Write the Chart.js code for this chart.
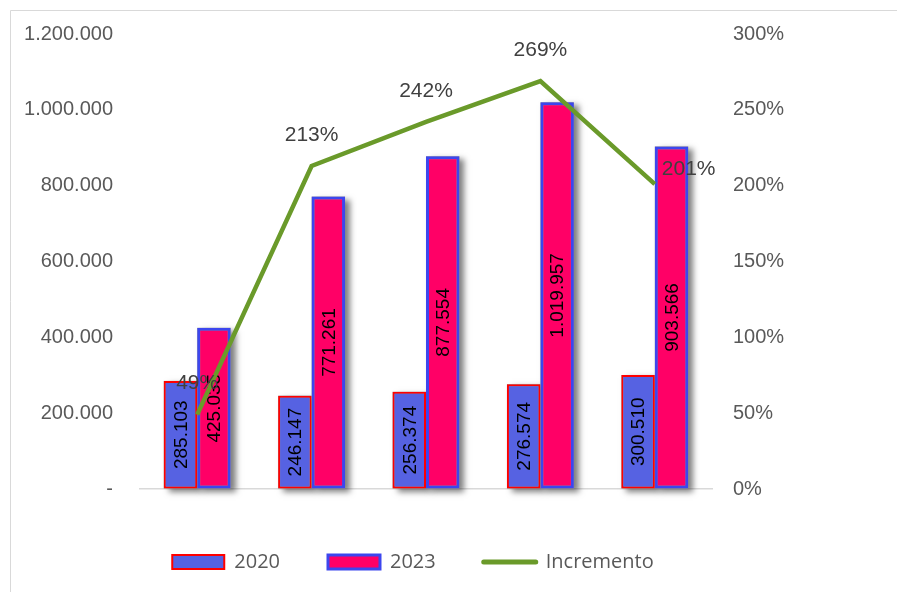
<!DOCTYPE html>
<html><head><meta charset="utf-8">
<script src="https://cdn.jsdelivr.net/npm/chart.js@4.4.0/dist/chart.umd.min.js"></script>
<style>html,body{margin:0;padding:0;background:#fff}canvas{display:block}</style>
</head><body>
<canvas id="c" width="897" height="592"></canvas>
<script>
const categories = ['A1', 'A2', 'A3', 'A4', 'A5'];
const values2020 = [285103, 246147, 256374, 276574, 300510];
const values2023 = [425035, 771261, 877554, 1019957, 903566];
const incremento = [49, 213, 242, 269, 201];
const leftTickValues = [0, 200000, 400000, 600000, 800000, 1000000, 1200000];
const rightTickValues = [0, 50, 100, 150, 200, 250, 300];
const seriesNames = ['2020', '2023', 'Incremento'];

const fmt = n => n === 0 ? '-' : String(n).replace(/\B(?=(\d{3})+(?!\d))/g, '.');
const AX_FONT = '"Liberation Sans", Arial, sans-serif';

const frame = {
  id: 'frame',
  beforeDraw(chart) {
    const ctx = chart.ctx;
    ctx.save();
    ctx.fillStyle = '#fff';
    ctx.fillRect(0, 0, chart.width, chart.height);
    ctx.strokeStyle = '#d9d9d9';
    ctx.lineWidth = 1;
    ctx.beginPath();
    ctx.moveTo(10.5, chart.height);
    ctx.lineTo(10.5, 10.5);
    ctx.lineTo(chart.width, 10.5);
    ctx.stroke();
    ctx.restore();
  }
};

const barDeco = {
  id: 'barDeco',
  beforeDatasetsDraw(chart) {
    const ctx = chart.ctx;
    ctx.save();
    ctx.shadowColor = 'rgba(0,0,0,0.5)';
    ctx.shadowBlur = 6;
    ctx.shadowOffsetX = 5;
    ctx.shadowOffsetY = 3;
    ctx.fillStyle = '#999';
    chart.data.datasets.forEach((ds, di) => {
      const meta = chart.getDatasetMeta(di);
      if (meta.type !== 'bar') return;
      meta.data.forEach(b => {
        const p = b.getProps(['x', 'y', 'base', 'width'], true);
        ctx.fillRect(p.x - p.width / 2, Math.min(p.y, p.base), p.width, Math.abs(p.base - p.y));
      });
    });
    ctx.restore();
  },
  afterDatasetDraw(chart, args) {
    const meta = args.meta;
    if (meta.type !== 'bar') return;
    const ctx = chart.ctx;
    const ds = chart.data.datasets[args.index];
    ctx.save();
    ctx.font = '19px ' + AX_FONT;
    ctx.fillStyle = '#000';
    ctx.textAlign = 'center';
    ctx.textBaseline = 'middle';
    meta.data.forEach((b, i) => {
      const p = b.getProps(['x', 'y', 'base'], true);
      ctx.save();
      ctx.translate(p.x + 1, (p.y + p.base) / 2);
      ctx.rotate(-Math.PI / 2);
      ctx.fillText(fmt(ds.data[i]), 0, 0);
      ctx.restore();
    });
    ctx.restore();
  },
  afterDatasetsDraw(chart) {
    const ctx = chart.ctx;
    const idx = chart.data.datasets.findIndex(d => d.type === 'line');
    const meta = chart.getDatasetMeta(idx);
    const ds = chart.data.datasets[idx];
    ctx.save();
    ctx.font = '21px ' + AX_FONT;
    ctx.fillStyle = '#404040';
    ctx.textBaseline = 'middle';
    meta.data.forEach((pt, i) => {
      const last = i === meta.data.length - 1;
      const label = ds.data[i] + '%';
      if (last) {
        ctx.textAlign = 'left';
        ctx.fillText(label, pt.x + 7, pt.y - 15);
      } else {
        ctx.textAlign = 'center';
        ctx.fillText(label, pt.x, pt.y - 31);
      }
    });
    ctx.restore();
  }
};

const hiddenTickGrid = len => ({
  display: true, drawOnChartArea: false, drawTicks: true, tickLength: len,
  color: 'rgba(0,0,0,0)', tickColor: 'rgba(0,0,0,0)'
});

new Chart(document.getElementById('c'), {
  data: {
    labels: categories,
    datasets: [
      {
        type: 'bar', label: seriesNames[0], data: values2020, yAxisID: 'y', order: 1,
        backgroundColor: '#5662e2', borderColor: '#ff0000', borderWidth: 2, borderSkipped: false,
        categoryPercentage: 0.585, barPercentage: 1
      },
      {
        type: 'bar', label: seriesNames[1], data: values2023, yAxisID: 'y', order: 1,
        backgroundColor: '#ff0066', borderColor: '#3c46ee', borderWidth: 3, borderSkipped: false,
        categoryPercentage: 0.585, barPercentage: 1
      },
      {
        type: 'line', label: seriesNames[2], data: incremento, yAxisID: 'y1', order: 0,
        borderColor: '#6a9a2a', borderWidth: 4.5, pointRadius: 0, tension: 0, fill: false
      }
    ]
  },
  options: {
    responsive: false,
    animation: false,
    layout: { padding: { left: 0, right: 71, top: 34, bottom: 10 } },
    plugins: {
      tooltip: { enabled: false },
      legend: {
        position: 'bottom',
        maxHeight: 78,
        labels: {
          usePointStyle: true,
          pointStyleWidth: 52,
          boxHeight: 14,
          padding: 48,
          color: '#595959',
          font: { family: '"Open Sans", sans-serif', size: 20 },
          generateLabels(chart) {
            const d = chart.data.datasets;
            return [
              { text: d[0].label, fillStyle: d[0].backgroundColor, strokeStyle: d[0].borderColor, lineWidth: 2, pointStyle: 'rect', datasetIndex: 0, hidden: false, fontColor: '#595959' },
              { text: d[1].label, fillStyle: d[1].backgroundColor, strokeStyle: d[1].borderColor, lineWidth: 3, pointStyle: 'rect', datasetIndex: 1, hidden: false, fontColor: '#595959' },
              { text: d[2].label, fillStyle: d[2].borderColor, strokeStyle: d[2].borderColor, lineWidth: 5, lineCap: 'round', pointStyle: 'line', datasetIndex: 2, hidden: false, fontColor: '#595959' }
            ];
          }
        }
      }
    },
    scales: {
      x: {
        grid: { display: false, drawTicks: false },
        border: { display: true, color: '#d9d9d9', width: 1.5 },
        ticks: { color: '#595959', font: { family: AX_FONT, size: 20 }, padding: 11 },
        afterFit(s) { s.height = 15; }
      },
      y: {
        position: 'left', min: 0, max: 1200000,
        grid: hiddenTickGrid(27),
        border: { display: false },
        afterBuildTicks(s) { s.ticks = leftTickValues.map(v => ({ value: v })); },
        ticks: { color: '#595959', font: { family: AX_FONT, size: 20 }, padding: 0, callback: v => fmt(v) },
        afterFit(s) { s.width = 140; }
      },
      y1: {
        position: 'right', min: 0, max: 300,
        grid: hiddenTickGrid(21),
        border: { display: false },
        afterBuildTicks(s) { s.ticks = rightTickValues.map(v => ({ value: v })); },
        ticks: { color: '#595959', font: { family: AX_FONT, size: 20 }, padding: 0, callback: v => v + '%' },
        afterFit(s) { s.width = 114; }
      }
    }
  },
  plugins: [frame, barDeco]
});
</script>
</body></html>
